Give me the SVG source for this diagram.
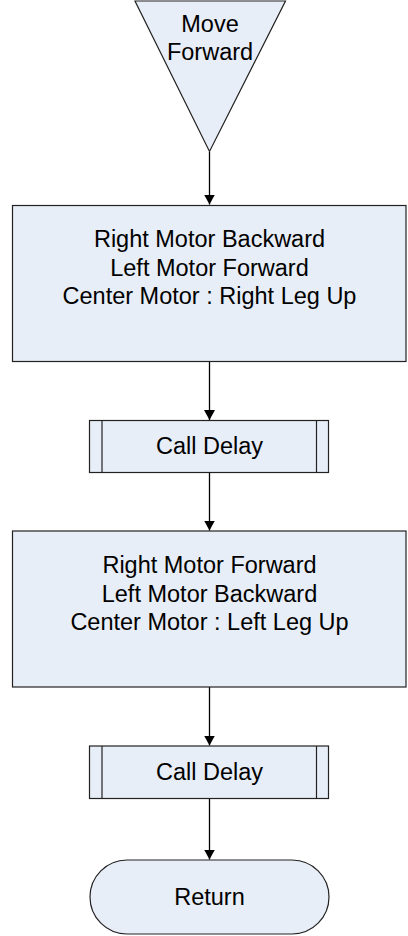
<svg xmlns="http://www.w3.org/2000/svg" width="408" height="936" viewBox="0 0 408 936">
<style>
.shape{fill:#E8EEF7;stroke:#222;stroke-width:1.2}
.t{font-family:"Liberation Sans",Arial,sans-serif;font-size:23.5px;fill:#000;text-anchor:middle}
.c{stroke:#000;stroke-width:1.3;fill:none;marker-end:url(#ah)}
</style>
<defs>
<marker id="ah" markerUnits="userSpaceOnUse" markerWidth="11" markerHeight="12" refX="10" refY="5.5" orient="auto">
<path d="M0,0 L10,5.5 L0,11 Z" fill="#000"/>
</marker>
</defs>
<rect width="408" height="936" fill="#fff"/>
<g id="connectors">
<line class="c" x1="209.5" y1="152" x2="209.5" y2="204.5"/>
<line class="c" x1="209.5" y1="362" x2="209.5" y2="420"/>
<line class="c" x1="209.5" y1="473" x2="209.5" y2="530.5"/>
<line class="c" x1="209.5" y1="687" x2="209.5" y2="745.5"/>
<line class="c" x1="209.5" y1="798.5" x2="209.5" y2="859.5"/>
</g>
<g id="start">
<path class="shape" d="M135,1 L285.5,1 L209.5,151.5 Z"/>
<text class="t" x="210" y="32">Move</text>
<text class="t" x="210" y="59.5">Forward</text>
</g>
<g id="step1">
<rect class="shape" x="12.5" y="205.5" width="393.5" height="156"/>
<text class="t" x="209.5" y="247">Right Motor Backward</text>
<text class="t" x="209.5" y="275.5">Left Motor Forward</text>
<text class="t" x="209.5" y="304">Center Motor : Right Leg Up</text>
</g>
<g id="delay1">
<rect class="shape" x="89.5" y="420.5" width="239" height="52"/>
<line class="shape" x1="102" y1="420.5" x2="102" y2="472.5"/>
<line class="shape" x1="316.5" y1="420.5" x2="316.5" y2="472.5"/>
<text class="t" x="209.5" y="454">Call Delay</text>
</g>
<g id="step2">
<rect class="shape" x="12.5" y="531" width="393.5" height="156"/>
<text class="t" x="209.5" y="573">Right Motor Forward</text>
<text class="t" x="209.5" y="601.5">Left Motor Backward</text>
<text class="t" x="209.5" y="630">Center Motor : Left Leg Up</text>
</g>
<g id="delay2">
<rect class="shape" x="89.5" y="746" width="239" height="52.5"/>
<line class="shape" x1="102" y1="746" x2="102" y2="798.5"/>
<line class="shape" x1="316.5" y1="746" x2="316.5" y2="798.5"/>
<text class="t" x="209.5" y="779.5">Call Delay</text>
</g>
<g id="return">
<rect class="shape" x="90" y="860" width="239" height="74" rx="37" ry="37"/>
<text class="t" x="209.5" y="905">Return</text>
</g>
</svg>
